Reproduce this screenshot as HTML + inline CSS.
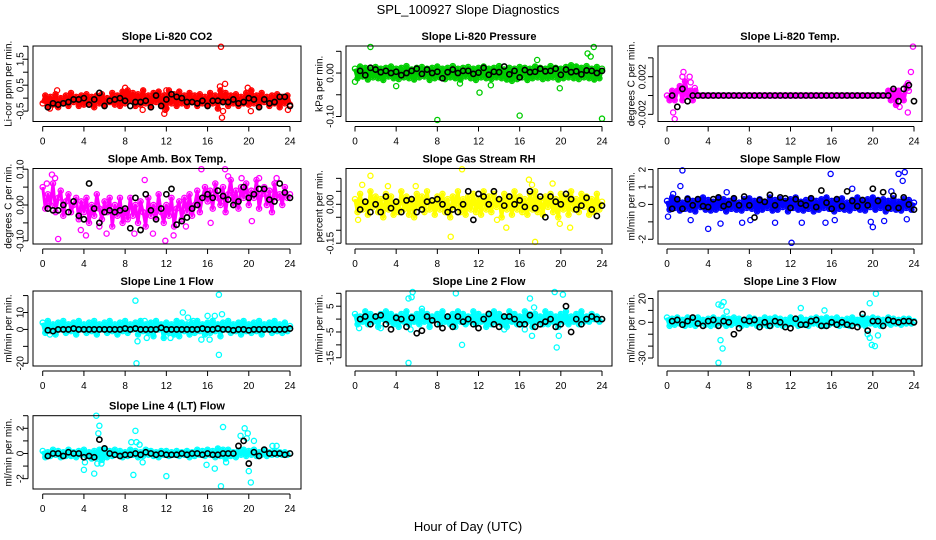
<!DOCTYPE html>
<html><head><meta charset="utf-8"><style>
html,body{margin:0;padding:0;background:#fff;}
svg{display:block;font-family:"Liberation Sans",sans-serif;}
</style></head><body>
<svg id="chart" width="936" height="540" viewBox="0 0 936 540">
<text x="468" y="14" text-anchor="middle" font-size="13">SPL_100927  Slope Diagnostics</text>
<text x="468" y="531" text-anchor="middle" font-size="13">Hour of Day (UTC)</text>
</svg>
<script>
// ---- data (colored series sampled every 0.25 h; black series every 0.5 h) ----
const xTicks = [0,4,8,12,16,20,24];
const co2Vals = [-0.2,0.1,-0.3,0.05,-0.25,0.15,-0.35,0.0,-0.2,0.1,-0.3,0.2,-0.15,0.05,-0.3,0.1,-0.25,0.15,-0.2,0.05,-0.35,0.1,-0.2,0.15,-0.3,0.0,-0.15,0.2,-0.25,0.1,-0.3,0.25,-0.2,0.3,-0.1,0.2,-0.3,0.15,-0.25,0.3,-0.2,0.1,-0.35,0.2,-0.15,0.25,-0.3,0.1,-0.4,0.3,-0.2,0.15,-0.3,0.25,-0.2,0.1,-0.3,0.2,-0.15,0.1,-0.3,0.15,-0.2,0.05,-0.3,0.2,-0.2,0.1,-0.4,0.3,-0.15,0.2,-0.3,0.1,-0.2,0.15,-0.3,0.05,-0.2,0.2,-0.25,0.3,-0.2,0.1,-0.3,0.2,-0.15,0.05,-0.3,0.1,-0.2,0.15,-0.35,0.05,-0.2,0.1,-0.25];
const co2Out = [[17.3,1.98],[17.2,0.45],[17.7,0.55],[17.4,-0.75],[17.5,-0.5],[11.8,-0.6],[11.9,-0.45],[8.0,0.4],[12,0.3],[19.9,0.4],[1.4,0.3],[20.2,-0.5],[23.8,-0.45],[9.7,-0.45],[0.7,-0.4]];
const co2Black = [-0.35,-0.2,-0.25,-0.2,-0.15,-0.05,-0.05,0.0,-0.25,-0.05,0.2,-0.3,-0.1,-0.05,0.0,-0.1,-0.3,-0.15,-0.15,-0.1,-0.35,0.1,-0.3,-0.05,0.15,0.05,0.0,-0.15,-0.15,-0.2,-0.1,-0.3,-0.1,-0.1,-0.15,-0.15,-0.05,-0.2,-0.15,0.0,-0.05,-0.35,-0.05,-0.2,-0.15,0.05,0.05,-0.3];

const presVals = [0.01,-0.012,0.015,-0.008,0.012,-0.015,0.008,-0.01,0.014,-0.012,0.01,-0.016,0.012,-0.008,0.015,-0.012,0.01,-0.014,0.012,-0.01,0.016,-0.012,0.008,-0.015,0.012,-0.01,0.014,-0.008,0.01,-0.016,0.012,-0.012,0.015,-0.01,0.01,-0.014,0.012,-0.01,0.016,-0.012,0.01,-0.015,0.012,-0.008,0.014,-0.012,0.01,-0.016,0.012,-0.01,0.015,-0.012,0.01,-0.014,0.012,-0.01,0.016,-0.012,0.008,-0.015,0.012,-0.018,0.01,-0.014,0.014,-0.01,0.012,-0.016,0.01,-0.012,0.015,-0.01,0.012,-0.014,0.01,-0.012,0.016,-0.01,0.012,-0.015,0.01,-0.012,0.014,-0.01,0.018,-0.012,0.015,-0.014,0.012,-0.01,0.016,-0.012,0.01,-0.015,0.014,-0.012,0.01];
const presOut = [[1.5,0.06],[22.6,0.045],[23.2,0.06],[22.9,0.038],[8,-0.108],[16,-0.098],[24,-0.105],[12.1,-0.045],[4,-0.03],[0,-0.02],[19.9,-0.035],[17.7,0.03],[13.2,-0.028],[10.2,-0.024]];
const presBlack = [0.005,-0.005,0.012,0.008,0.002,0.005,0.0,0.003,-0.005,0.0,0.005,0.01,-0.002,0.008,0.0,0.003,-0.012,0.002,0.008,0.0,0.005,0.005,-0.002,0.001,0.012,-0.004,0.003,0.002,0.015,-0.003,0.005,-0.01,0.007,0.002,0.003,0.01,0.004,0.005,0.01,-0.004,0.008,0.002,0.004,-0.003,0.006,0.005,0.0,0.005];

const tempVals = [0,-0.0005,0.0005,-0.0005,0.0005,0.001,-0.0005,0.0015,0,0.0005,-0.0005,0.0005,
0,0,0,0,0,0,0,0,0,0,0,0,0,0,0,0,0,0,0,0,0,0,0,0,0,0,0,0,0,0,0,0,0,0,0,0,0,0,0,0,0,0,0,0,0,0,0,0,0,0,0,0,0,0,0,0,0,0,0,0,0,0,0,0,0,0,0,0,0,0,0,0,0,0,
0.0005,-0.0005,0.0005,-0.001,0.0005,0,-0.0005,0.001,0.0005];
const tempOut = [[0.6,-0.0018],[0.75,-0.0025],[1.6,0.0025],[1.5,0.002],[2.2,0.002],[2.3,0.0014],[2.7,0.0008],[23.9,0.0052],[23.7,0.0025],[23.4,0.0013],[23.4,-0.0018],[22.6,-0.0012]];
const tempBlack = [0,-0.0012,0.0007,-0.0006,0,0,0,0,0,0,0,0,0,0,0,0,0,0,0,0,0,0,0,0,0,0,0,0,0,0,0,0,0,0,0,0,0,0,0,0,0,0,0,0.0007,-0.0006,0.0007,0.0011,-0.0006];

const ambVals = [0.05,-0.01,0.03,0.0,0.06,-0.02,0.02,0.04,-0.03,0.01,0.03,-0.02,0.0,0.02,-0.04,0.01,-0.02,0.02,-0.05,0.0,-0.03,0.03,-0.01,-0.04,0.01,-0.02,0.02,-0.06,0.0,-0.03,0.02,-0.05,-0.01,-0.04,0.02,-0.03,0.0,-0.05,0.01,-0.02,-0.06,0.02,-0.03,0.0,-0.04,0.03,-0.02,-0.05,0.0,-0.03,0.02,-0.06,-0.01,0.01,-0.04,0.02,-0.02,0.03,-0.03,0.0,0.04,-0.02,0.02,0.05,0.01,0.04,-0.01,0.06,0.02,0.0,0.05,-0.02,0.03,0.07,0.0,0.04,-0.01,0.05,0.02,0.06,0.0,0.04,0.02,0.07,-0.01,0.03,0.05,0.0,0.04,-0.02,0.06,0.02,0.03,0.0,0.05,0.02,0.03];
const ambOut = [[0.4,0.06],[0.9,0.085],[1.2,0.075],[1.5,-0.095],[4.2,-0.085],[3.7,-0.07],[9.9,0.07],[11.9,-0.1],[12.7,-0.085],[15.4,0.1],[17.7,0.1],[19.3,0.075],[20.3,-0.045],[21.0,0.075],[22.7,0.075],[6.2,-0.08],[10.7,-0.08],[5.5,-0.06],[8.9,-0.08],[13.9,-0.06],[16.3,-0.05],[18.0,0.08]];
const ambBlack = [-0.01,-0.015,-0.015,0.0,-0.02,0.01,-0.03,-0.04,0.06,-0.01,-0.05,-0.02,-0.015,-0.02,-0.015,-0.01,-0.065,0.02,-0.07,0.03,-0.015,-0.04,-0.01,0.03,0.045,-0.055,-0.045,-0.035,-0.01,0.0,0.02,0.03,0.02,0.04,0.025,0.015,0.0,0.01,0.05,0.02,0.03,0.045,0.045,0.015,0.01,0.06,0.035,0.02];

const rhVals = [0.02,-0.03,0.04,-0.02,0.01,-0.04,0.05,-0.01,0.03,-0.03,0.02,-0.05,0.04,-0.02,0.03,-0.04,0.01,-0.03,0.05,-0.02,0.03,-0.04,0.02,-0.05,0.04,-0.01,0.03,-0.03,0.05,-0.02,0.01,-0.04,0.03,-0.02,0.04,-0.03,0.02,-0.05,0.03,-0.01,0.05,-0.03,0.02,-0.04,0.03,-0.02,0.04,-0.03,0.02,-0.04,0.05,-0.02,0.03,-0.03,0.04,-0.01,0.02,-0.05,0.04,-0.02,0.03,-0.04,0.05,-0.02,0.03,-0.03,0.02,-0.04,0.04,-0.02,0.05,-0.03,0.02,-0.04,0.03,-0.01,0.04,-0.03,0.02,-0.05,0.04,-0.02,0.03,-0.04,0.05,-0.02,0.02,-0.03,0.04,-0.01,0.03,-0.04,0.02,-0.03,0.04,-0.02,0.01];
const rhOut = [[1.5,0.11],[0.7,0.075],[10.4,0.135],[9.3,-0.125],[17.5,-0.145],[16.9,0.095],[14.7,-0.09],[20.9,-0.09],[19.9,-0.075],[17.2,0.075],[19.2,0.08],[3.2,0.07],[5.9,0.07],[13.8,-0.06],[0.3,-0.06]];
const rhBlack = [-0.02,0.01,-0.03,0.0,-0.03,0.03,-0.015,0.01,-0.03,0.015,0.02,-0.03,-0.02,0.01,0.015,0.02,0.0,-0.03,-0.02,-0.03,0.0,0.05,-0.06,0.04,0.03,0.0,0.05,0.02,-0.005,0.03,0.0,0.015,-0.01,0.05,-0.015,0.03,-0.05,0.03,0.01,0.0,0.04,0.02,-0.02,-0.005,0.025,-0.02,-0.045,-0.005];

const flowVals = [0.2,-0.3,0.4,-0.2,0.3,-0.35,0.1,-0.25,0.35,-0.3,0.2,-0.4,0.3,-0.15,0.4,-0.3,0.25,-0.35,0.15,-0.3,0.4,-0.2,0.3,-0.4,0.2,-0.25,0.35,-0.3,0.1,-0.35,0.3,-0.2,0.35,-0.25,0.2,-0.4,0.3,-0.3,0.15,-0.2,0.4,-0.35,0.25,-0.3,0.3,-0.15,0.2,-0.4,0.3,-0.2,0.4,-0.3,0.15,-0.35,0.25,-0.25,0.35,-0.4,0.2,-0.3,0.3,-0.2,0.4,-0.25,0.2,-0.4,0.3,-0.25,0.35,-0.3,0.1,-0.35,0.25,-0.2,0.4,-0.3,0.2,-0.35,0.3,-0.15,0.4,-0.3,0.25,-0.2,0.3,-0.4,0.2,-0.25,0.35,-0.3,0.15,-0.35,0.3,-0.2,0.25,-0.3,0.1];
const flowOut = [[0.1,-0.7],[1.3,1.05],[1.5,1.95],[2.3,-0.9],[4.0,-1.4],[5.2,-1.1],[7.3,-1.05],[8.1,-0.9],[10.5,-1.05],[12.1,-2.2],[13.1,-1.05],[15.4,-1.05],[15.9,1.75],[16.3,-0.9],[19.8,-1.0],[20.0,-1.3],[21.1,-0.95],[22.5,1.75],[22.9,1.35],[23.1,1.85],[23.3,-0.85],[5.8,0.7],[18.0,0.9],[0.6,0.6],[21.8,0.75]];
const flowBlack = [-0.25,0.3,-0.25,0.3,-0.05,0.3,-0.1,-0.15,0.3,0.4,-0.1,0.0,0.35,-0.05,0.45,-0.05,-0.75,0.25,0.15,0.55,-0.05,0.4,0.35,-0.2,0.3,0.05,-0.05,0.35,-0.15,0.8,0.1,-0.25,0.3,-0.1,0.75,0.2,-0.1,0.25,-0.05,0.9,0.2,0.7,-0.2,0.5,-0.2,0.4,0.0,-0.3];

const l1Vals = [4,-2,5,-1,3,-3,4,0,5,-2,3,-1,4,-3,5,0,3,-2,4,-1,5,-3,3,0,4,-2,5,-1,3,-3,4,-1,5,-2,3,0,4,-3,5,-1,3,-2,4,-4,5,0,3,-5,4,-2,3,-3,5,-4,4,-1,3,-3,4,-2,5,-1,3,-3,4,-2,5,-1,3,-4,4,0,5,-2,3,-1,4,-3,5,-1,3,-2,4,-1,5,-3,3,0,4,-2,5,-1,3,-2,4,-1,2];
const l1Out = [[9.0,17],[17.1,20.5],[9.1,-20],[17.1,-15],[9.2,-7],[9.9,5],[13.6,10],[14.1,7],[14.6,5],[16,8],[16.7,8],[17.4,9],[16.2,-6],[15.4,-6],[10.1,-5],[12.4,-5],[0.7,-3]];
const l1Black = [-0.5,-1,0,0,0,0.5,0,0,0,0,0,0,0,0,0,0.5,0,0.5,0,0,0,0,1,0,0,0,0,0,0,0,0.5,0,0,0.5,0,0,-0.5,0,0,-0.5,0,0,0,0,0,0,0,0.5];

const l2Vals = [2,-2,1,-1,3,-2,2,-1,1,-3,2,0,3,-1,2,-2,1,-3,2,-1,3,-2,1,-1,2,-2,3,-1,2,-3,1,0,2,-2,3,-1,1,-2,2,-3,3,-1,2,-2,1,-1,3,-2,2,-1,1,-3,2,-2,3,-1,2,-2,1,-3,3,-1,2,-2,1,-2,3,-1,2,-3,2,-1,1,-2,3,-2,2,-1,1,-3,2,-1,3,-2,1,-1,2,-2,3,-1,1,-1,2,0,1,-1,0];
const l2Out = [[5.2,-17],[5.2,8],[5.5,8.5],[5.6,10.5],[9.8,10],[10.4,-10],[17.0,8],[17.2,-6.5],[19.4,10.5],[19.6,-11],[19.8,-6.5],[20.2,9.5],[0.4,-3.5],[2.5,-3.5],[5.4,-4],[6.5,4],[14.5,-4],[16.5,-4],[17.4,4.5]];
const l2Black = [0,1,-2,1,1.5,-2,-4,0.5,0,-3,0.5,-5.5,-4.5,1,-0.5,-2,-3.5,1,-3,1,-1,0,-2,-3.5,0,2,-2,-3,1,1,0,-2,-2,1.5,-3,-2,-1,0,-3,-2,5,-5,0,-2,0,1,0,0];

const l3Vals = [4,-3,3,-2,4,-1,2,-3,4,-2,3,-3,4,-1,2,-2,3,-3,4,-2,2,-1,4,-3,3,-2,4,-1,3,-3,2,-2,4,-1,3,-3,2,-2,4,-3,3,-1,4,-2,3,-3,2,-2,4,-1,3,-3,4,-2,2,-3,3,-1,4,-2,3,-3,4,-2,3,-1,4,-3,2,-2,3,-3,4,-1,2,-2,4,-3,3,-1,4,-2,3,-3,2,-1,4,-2,3,-1,2,-2,3,-1,2,-1,1];
const l3Out = [[5.0,-34],[5.2,-15],[5.4,-22],[5.0,15],[5.3,14],[5.5,17],[5.8,9],[13.0,12],[19.7,16],[20.2,-20],[20.3,24],[19.9,-19],[19.5,-10],[19.7,-13],[20.5,-11],[15.3,10],[10.1,-3],[23.5,3]];
const l3Black = [1,2,-2,1,4,-1,-3,1,2,-3,1,0,-10,-5,2,1,2,-4,0,-3,1,0,-4,-5,3,-2,-2,1,2,-3,-3,0,-2,0,-2,-3,-4,7,-7,1,1,-3,2,1,0,1,1,0];

const l4Vals = [0.2,-0.3,0.1,-0.2,0.3,-0.1,0.2,-0.3,0.1,-0.2,0.3,-0.2,0.1,-0.3,0.2,-0.1,0.3,-0.2,0.1,-0.4,0.2,-0.3,0.3,-0.5,0.4,-0.3,0.2,-0.2,0.3,-0.1,0.2,-0.3,0.1,-0.2,0.3,-0.1,0.2,-0.3,0.1,-0.2,0.3,-0.1,0.2,-0.2,0.1,-0.3,0.2,-0.1,0.2,-0.2,0.1,-0.1,0.2,-0.2,0.1,-0.1,0.2,-0.3,0.1,-0.2,0.3,-0.1,0.2,-0.2,0.3,-0.1,0.2,-0.3,0.4,-0.2,0.3,-0.4,0.3,-0.2,0.1,-0.3,0.2,-0.1,0.3,-0.2,0.2,-0.1,0.3,-0.2,0.1,-0.1,0.2,-0.2,0.1,-0.1,0.2,-0.1,0.1,-0.1,0.1,-0.1,0];
const l4Out = [[5.2,3.0],[5.5,2.2],[5.4,1.6],[4.0,-1.3],[5.0,-1.6],[5.3,-0.8],[5.7,-0.8],[8.8,-1.7],[9.0,1.8],[9.1,0.9],[9.4,0.7],[9.7,-0.7],[8.6,0.9],[12.0,-1.8],[15.9,-0.9],[16.7,-1.2],[17.3,-2.6],[17.5,2.1],[17.8,-0.7],[19.2,1.4],[19.6,2.0],[19.9,1.6],[20.0,-1.4],[20.2,-2.3],[20.5,1.0],[22.3,0.6],[22.7,0.6],[4.1,-0.7],[19.8,1.2]];
const l4Black = [-0.2,0.0,0.0,-0.2,0.1,0.0,0.0,-0.3,-0.2,-0.3,1.1,0.4,0.0,-0.1,-0.2,-0.1,-0.1,0.0,-0.1,0.1,0.0,-0.1,0.0,-0.1,-0.1,-0.1,0.0,-0.1,0.0,0.0,-0.1,0.0,-0.1,-0.1,0.0,0.0,0.0,0.6,1.0,-0.8,0.1,-0.2,0.3,0.0,0.0,0.0,-0.1,0.0];

// ---- layout (pixel geometry) ----
const cols = [{l:33,r:301,x0:42.7,x24:290,lab:13,tit:25},{l:346,r:612,x0:355,x24:602,lab:16,tit:27},{l:658,r:922,x0:667,x24:914,lab:16,tit:27}];
const rows = [{t:46,b:121.5},{t:168.5,b:244},{t:291,b:366},{t:415.7,b:489}];

const panels = [
 {name:'co2',title:'Slope Li-820 CO2',ylab:'Li-cor ppm per min.',c:0,r:0,dom:[-0.90,2.01],ticks:[-0.5,0,0.5,1,1.5,2],labs:['-0.5','0.5','1.5'],labAt:[-0.5,0.5,1.5],color:'#ff0000',vals:co2Vals,out:co2Out,blk:co2Black,band:4},
 {name:'pressure',title:'Slope Li-820 Pressure',ylab:'kPa per min.',c:1,r:0,dom:[-0.1115,0.0622],ticks:[-0.1,-0.05,0,0.05],labs:['-0.10','0.00'],labAt:[-0.1,0],color:'#00cd00',vals:presVals,out:presOut,blk:presBlack,band:4},
 {name:'temp',title:'Slope Li-820 Temp.',ylab:'degrees C per min.',c:2,r:0,dom:[-0.00276,0.00526],ticks:[-0.002,0,0.002,0.004],labs:['-0.002','0.002'],labAt:[-0.002,0.002],color:'#ff00ff',vals:tempVals,out:tempOut,blk:tempBlack,band:4},
 {name:'amb-box-temp',title:'Slope Amb. Box Temp.',ylab:'degrees C per min.',c:0,r:1,dom:[-0.109,0.102],ticks:[-0.1,-0.05,0,0.05,0.1],labs:['-0.10','0.00','0.10'],labAt:[-0.1,0,0.1],color:'#ff00ff',vals:ambVals,out:ambOut,blk:ambBlack,band:3},
 {name:'gas-rh',title:'Slope Gas Stream RH',ylab:'percent per min.',c:1,r:1,dom:[-0.153,0.138],ticks:[-0.15,-0.1,-0.05,0,0.05,0.1],labs:['-0.15','0.00'],labAt:[-0.15,0],color:'#ffff00',vals:rhVals,out:rhOut,blk:rhBlack,band:3.5},
 {name:'sample-flow',title:'Slope Sample Flow',ylab:'ml/min per min.',c:2,r:1,dom:[-2.27,2.06],ticks:[-2,-1,0,1,2],labs:['-2','0','1','2'],labAt:[-2,0,1,2],color:'#0000ff',vals:flowVals,out:flowOut,blk:flowBlack,band:4},
 {name:'line1-flow',title:'Slope Line 1 Flow',ylab:'ml/min per min.',c:0,r:2,dom:[-21.6,22.7],ticks:[-20,-10,0,10,20],labs:['-20','0','10'],labAt:[-20,0,10],color:'#00ffff',vals:l1Vals,out:l1Out,blk:l1Black,band:4},
 {name:'line2-flow',title:'Slope Line 2 Flow',ylab:'ml/min per min.',c:1,r:2,dom:[-18.2,10.9],ticks:[-15,-10,-5,0,5,10],labs:['-15','-5','5'],labAt:[-15,-5,5],color:'#00ffff',vals:l2Vals,out:l2Out,blk:l2Black,band:4},
 {name:'line3-flow',title:'Slope Line 3 Flow',ylab:'ml/min per min.',c:2,r:2,dom:[-36.7,26.3],ticks:[-30,-20,-10,0,10,20],labs:['-30','0','20'],labAt:[-30,0,20],color:'#00ffff',vals:l3Vals,out:l3Out,blk:l3Black,band:4},
 {name:'line4-flow',title:'Slope Line 4 (LT) Flow',ylab:'ml/min per min.',c:0,r:3,dom:[-2.82,3.0],ticks:[-2,-1,0,1,2,3],labs:['-2','0','2'],labAt:[-2,0,2],color:'#00ffff',vals:l4Vals,out:l4Out,blk:l4Black,band:4}
];

const NS='http://www.w3.org/2000/svg';
const svg=document.getElementById('chart');
function mk(tag,attrs,parent){const e=document.createElementNS(NS,tag);for(const k in attrs)e.setAttribute(k,attrs[k]);(parent||svg).appendChild(e);return e;}

panels.forEach(p=>{
  const C=cols[p.c], R=rows[p.r];
  const xs=h=>C.x0+(C.x24-C.x0)*h/24;
  const ys=v=>R.b-(v-p.dom[0])/(p.dom[1]-p.dom[0])*(R.b-R.t);
  const g=mk('g',{});
  
  
  const t=mk('text',{x:(C.l+C.r)/2,y:R.t-6,'text-anchor':'middle','font-size':'11','font-weight':'bold'},g);
  t.textContent=p.title;
  
  
  const pts=mk('g',{fill:'none','stroke-width':'1.3'},g);
  
  
  // dense band: zigzag through colored samples
  const d=p.vals.map((v,i)=>(i?'L':'M')+xs(i*0.25).toFixed(1)+','+ys(v).toFixed(1)).join('');
  const band=mk('path',{d:d,stroke:p.color,'stroke-width':p.band,'stroke-linejoin':'round',fill:'none'},pts);
  
  
  p.vals.forEach((v,i)=>{
    const c=mk('circle',{cx:xs(i*0.25),cy:ys(v),r:2.6,stroke:p.color},pts);
    
    
  });
  p.out.forEach(o=>{
    const c=mk('circle',{cx:xs(o[0]),cy:ys(o[1]),r:2.6,stroke:p.color},pts);
    
    
  });
  p.blk.forEach((v,i)=>{
    const c=mk('circle',{cx:xs((i+1)*0.5),cy:ys(v),r:2.6,stroke:'#000','stroke-width':'1.6'},pts);
    
    
  });
  const b=mk('rect',{x:C.l,y:R.t,width:C.r-C.l,height:R.b-R.t,fill:'none',stroke:'#000','stroke-width':'1'},g);
  
  
  const xa=mk('g',{stroke:'#000','stroke-width':'1'},g);
  
  
  const ay=R.b+5;
  mk('line',{x1:xs(xTicks[0]),x2:xs(xTicks[xTicks.length-1]),y1:ay,y2:ay},xa);
  xTicks.forEach(h=>{
    mk('line',{x1:xs(h),x2:xs(h),y1:ay,y2:ay+5},xa);
    const tl=mk('text',{x:xs(h),y:ay+18,'text-anchor':'middle','font-size':'10',stroke:'none',fill:'#000'},xa);
    tl.textContent=h;
    
    
  });
  const ya=mk('g',{stroke:'#000','stroke-width':'1'},g);
  
  
  const ax=C.l-5;
  mk('line',{x1:ax,x2:ax,y1:ys(p.ticks[0]),y2:ys(p.ticks[p.ticks.length-1])},ya);
  p.ticks.forEach(v=>mk('line',{x1:ax,x2:ax-5,y1:ys(v),y2:ys(v)},ya));
  p.labAt.forEach((v,i)=>{
    const lx=C.l-C.lab, ly=ys(v);
    const tl=mk('text',{x:lx,y:ly,'text-anchor':'middle','font-size':'10',stroke:'none',fill:'#000',transform:`rotate(-90 ${lx} ${ly})`,dy:'0.35em'},ya);
    tl.textContent=p.labs[i];
    
    
  });
  const tx=C.l-C.tit, ty=(R.t+R.b)/2;
  const yt=mk('text',{x:tx,y:ty,'text-anchor':'middle','font-size':'10',transform:`rotate(-90 ${tx} ${ty})`,dy:'0.35em'},g);
  yt.textContent=p.ylab;
  
  
});
</script>
</body></html>
